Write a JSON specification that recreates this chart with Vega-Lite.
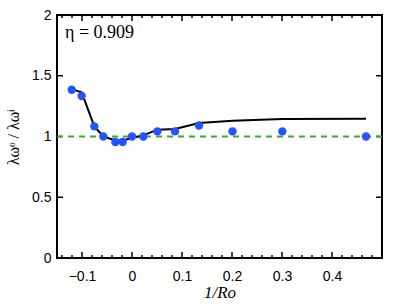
{
  "$schema": "https://vega.github.io/schema/vega-lite/v6.json",
  "width": 325,
  "height": 243,
  "autosize": "none",
  "padding": {"left": 57, "top": 15, "right": 25, "bottom": 48},
  "background": "white",
  "config": {
    "view": {"stroke": "black", "strokeWidth": 2},
    "axis": {"grid": false, "domain": false, "tickColor": "black", "labelColor": "black", "labelFont": "Liberation Sans", "labelFontSize": 14}
  },
  "datasets": {
    "pts": [
      {"x": -0.1206, "y": 1.385},
      {"x": -0.1007, "y": 1.333},
      {"x": -0.0753, "y": 1.083},
      {"x": -0.0573, "y": 1.0},
      {"x": -0.0333, "y": 0.955},
      {"x": -0.0187, "y": 0.955},
      {"x": 0.0, "y": 1.0},
      {"x": 0.0227, "y": 1.0},
      {"x": 0.0507, "y": 1.042},
      {"x": 0.086, "y": 1.042},
      {"x": 0.134, "y": 1.091},
      {"x": 0.201, "y": 1.042},
      {"x": 0.3007, "y": 1.042},
      {"x": 0.468, "y": 1.0}
    ],
    "line": [
      {"x": -0.1206, "y": 1.39},
      {"x": -0.1007, "y": 1.363},
      {"x": -0.0753, "y": 1.083},
      {"x": -0.0573, "y": 1.0},
      {"x": -0.0333, "y": 0.968},
      {"x": -0.0187, "y": 0.968},
      {"x": 0.0, "y": 0.988},
      {"x": 0.0227, "y": 1.009},
      {"x": 0.0507, "y": 1.056},
      {"x": 0.086, "y": 1.062},
      {"x": 0.134, "y": 1.111},
      {"x": 0.201, "y": 1.13},
      {"x": 0.3007, "y": 1.144},
      {"x": 0.468, "y": 1.146}
    ],
    "lab": [{"x": -0.134, "y": 1.854, "t": "η = 0.909"}],
    "ref": [{"y": 1}],
    "xmajor": [{"v": -0.1}, {"v": 0}, {"v": 0.1}, {"v": 0.2}, {"v": 0.3}, {"v": 0.4}],
    "xminor": [{"v": -0.14}, {"v": -0.12}, {"v": -0.08}, {"v": -0.06}, {"v": -0.04}, {"v": -0.02}, {"v": 0.02}, {"v": 0.04}, {"v": 0.06}, {"v": 0.08}, {"v": 0.12}, {"v": 0.14}, {"v": 0.16}, {"v": 0.18}, {"v": 0.22}, {"v": 0.24}, {"v": 0.26}, {"v": 0.28}, {"v": 0.32}, {"v": 0.34}, {"v": 0.36}, {"v": 0.38}, {"v": 0.42}, {"v": 0.44}, {"v": 0.46}, {"v": 0.48}],
    "ymajor": [{"v": 0.5}, {"v": 1}, {"v": 1.5}]
  },
  "layer": [
    {
      "data": {"name": "pts"},
      "mark": {"type": "point", "opacity": 0},
      "encoding": {
        "x": {"field": "x", "type": "quantitative", "scale": {"domain": [-0.15, 0.5], "nice": false, "zero": false},
          "axis": {"orient": "bottom", "values": [-0.1, 0, 0.1, 0.2, 0.3, 0.4], "ticks": false, "labelPadding": 11, "format": ".1~f", "title": "1/Ro", "titleFont": "Liberation Serif", "titleFontStyle": "italic", "titleFontWeight": "normal", "titleFontSize": 17, "titlePadding": 1}},
        "y": {"field": "y", "type": "quantitative", "scale": {"domain": [0, 2], "nice": false},
          "axis": {"orient": "left", "values": [0, 0.5, 1, 1.5, 2], "ticks": false, "labelPadding": 6, "format": "~g", "title": "λωᵒ / λωⁱ", "titleFont": "Liberation Serif", "titleFontWeight": "normal", "titleFontSize": 16, "titlePadding": 10}}
      }
    },
    {
      "data": {"name": "xmajor"},
      "mark": {"type": "rule", "strokeWidth": 1.5, "color": "black"},
      "encoding": {"x": {"field": "v", "type": "quantitative"}, "y": {"datum": 0, "type": "quantitative"}, "y2": {"datum": 0.05}}
    },
    {
      "data": {"name": "xmajor"},
      "mark": {"type": "rule", "strokeWidth": 1.5, "color": "black"},
      "encoding": {"x": {"field": "v", "type": "quantitative"}, "y": {"datum": 2, "type": "quantitative"}, "y2": {"datum": 1.95}}
    },
    {
      "data": {"name": "xminor"},
      "mark": {"type": "rule", "strokeWidth": 1.5, "color": "black"},
      "encoding": {"x": {"field": "v", "type": "quantitative"}, "y": {"datum": 0, "type": "quantitative"}, "y2": {"datum": 0.025}}
    },
    {
      "data": {"name": "xminor"},
      "mark": {"type": "rule", "strokeWidth": 1.5, "color": "black"},
      "encoding": {"x": {"field": "v", "type": "quantitative"}, "y": {"datum": 2, "type": "quantitative"}, "y2": {"datum": 1.975}}
    },
    {
      "data": {"name": "ymajor"},
      "mark": {"type": "rule", "strokeWidth": 1.5, "color": "black"},
      "encoding": {"y": {"field": "v", "type": "quantitative"}, "x": {"datum": -0.15, "type": "quantitative"}, "x2": {"datum": -0.138}}
    },
    {
      "data": {"name": "ymajor"},
      "mark": {"type": "rule", "strokeWidth": 1.5, "color": "black"},
      "encoding": {"y": {"field": "v", "type": "quantitative"}, "x": {"datum": 0.5, "type": "quantitative"}, "x2": {"datum": 0.488}}
    },
    {
      "data": {"name": "ref"},
      "mark": {"type": "rule", "color": "#3aaa35", "strokeWidth": 2, "strokeDash": [6, 5]},
      "encoding": {"y": {"field": "y", "type": "quantitative"}}
    },
    {
      "data": {"name": "line"},
      "mark": {"type": "line", "color": "black", "strokeWidth": 2},
      "encoding": {
        "x": {"field": "x", "type": "quantitative"},
        "y": {"field": "y", "type": "quantitative"}
      }
    },
    {
      "data": {"name": "pts"},
      "mark": {"type": "circle", "color": "#2255ff", "opacity": 1, "size": 70},
      "encoding": {
        "x": {"field": "x", "type": "quantitative"},
        "y": {"field": "y", "type": "quantitative"}
      }
    },
    {
      "data": {"name": "lab"},
      "mark": {"type": "text", "align": "left", "baseline": "middle", "font": "Liberation Serif", "fontSize": 18, "color": "black"},
      "encoding": {
        "x": {"field": "x", "type": "quantitative"},
        "y": {"field": "y", "type": "quantitative"},
        "text": {"field": "t"}
      }
    }
  ]
}
